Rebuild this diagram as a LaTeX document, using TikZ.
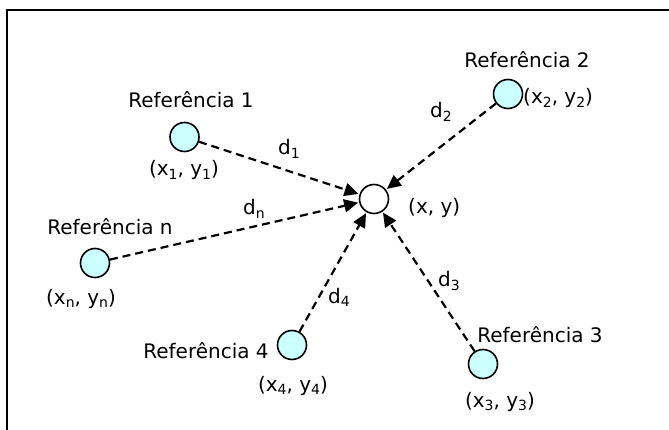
\documentclass[tikz,border=0pt]{standalone}
\usepackage{fontspec}
\setmainfont{DejaVu Sans}
\usetikzlibrary{arrows.meta}
\definecolor{lightcy}{HTML}{CCFFFF}
\newcommand{\sbs}[1]{\raisebox{-3.5pt}{\fontsize{14}{14}\selectfont #1}}
\begin{document}
\begin{tikzpicture}[x=1pt,y=-1pt,
  refc/.style={circle,draw,line width=1.6pt,fill=lightcy,minimum size=29pt,inner sep=0pt},
  ctr/.style={circle,draw,line width=1.6pt,fill=white,minimum size=29pt,inner sep=0pt},
  lbl/.style={inner sep=0pt,font=\fontsize{20}{22}\selectfont},
  conn/.style={dash pattern=on 8pt off 5pt,line width=2.2pt,-{Triangle[length=14pt,width=13pt]},shorten >=1pt}]
\useasboundingbox (0,0) rectangle (669,430);
\draw[line width=1.5pt] (7,445) -- (7,10) -- (685,10);

\node[ctr] (c) at (374,199) {};
\node[refc] (r1) at (184.5,137) {};
\node[refc] (r2) at (508,94) {};
\node[refc] (rn) at (95,263) {};
\node[refc] (r4) at (292,345) {};
\node[refc] (r3) at (483,364) {};

\node[lbl,anchor=base] (t1) at (191,108) {Referência 1};
\node[lbl,anchor=base] (t2) at (527,68) {Referência 2};
\node[lbl,anchor=base] (tn) at (110,235) {Referência n};
\node[lbl,anchor=base] (t4) at (206,358) {Referência 4};
\node[lbl,anchor=base] (t3) at (540,342) {Referência 3};

\node[lbl,anchor=base] (p1) at (184,176) {(x\sbs{1}, y\sbs{1})};
\node[lbl,anchor=base west] (p2) at (523,104) {(x\sbs{2}, y\sbs{2})};
\node[lbl,anchor=base] (pn) at (81,304) {(x\sbs{n}, y\sbs{n})};
\node[lbl,anchor=base] (p4) at (293,391) {(x\sbs{4}, y\sbs{4})};
\node[lbl,anchor=base] (p3) at (500,407) {(x\sbs{3}, y\sbs{3})};
\node[lbl,anchor=base west] (pc) at (408,214) {(x, y)};

\node[lbl,anchor=base west] (d1) at (278,155) {d\sbs{1}};
\node[lbl,anchor=base west] (d2) at (430,118) {d\sbs{2}};
\node[lbl,anchor=base west] (dn) at (243,215) {d\sbs{n}};
\node[lbl,anchor=base west] (d4) at (328,303) {d\sbs{4}};
\node[lbl,anchor=base west] (d3) at (438,287) {d\sbs{3}};

\draw[conn] (r1) -- (c);
\draw[conn] (r2) -- (c);
\draw[conn] (rn) -- (c);
\draw[conn] (r4) -- (c);
\draw[conn] (r3) -- (c);
\end{tikzpicture}
\end{document}
